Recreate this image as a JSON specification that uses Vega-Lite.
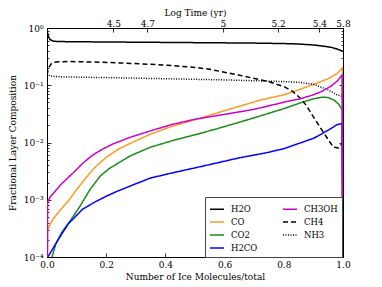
{
  "$schema": "https://vega.github.io/schema/vega-lite/v6.json",
  "width": 296,
  "height": 229,
  "autosize": {"type": "none"},
  "padding": {"left": 47, "top": 28, "right": 39, "bottom": 30},
  "background": "white",
  "config": {
    "font": "DejaVu Serif",
    "view": {"stroke": "black", "strokeWidth": 1},
    "axis": {
      "grid": false,
      "domainColor": "black",
      "domainWidth": 1,
      "tickColor": "black",
      "tickWidth": 0.8,
      "labelFont": "DejaVu Serif",
      "labelFontSize": 9,
      "labelColor": "black",
      "titleFont": "DejaVu Serif",
      "titleFontSize": 9,
      "titleFontWeight": "normal",
      "titleColor": "black",
      "labelOverlap": false,
      "labelFlush": false
    },
    "legend": {
      "labelFont": "DejaVu Serif",
      "columnPadding": 22,
      "rowPadding": -1,
      "padding": 4
    }
  },
  "datasets": {
    "curves": [
      {"s": "H2O", "x": 0, "y": 0.92},
      {"s": "H2O", "x": 0.004, "y": 0.72},
      {"s": "H2O", "x": 0.01, "y": 0.63},
      {"s": "H2O", "x": 0.02, "y": 0.59},
      {"s": "H2O", "x": 0.04, "y": 0.58},
      {"s": "H2O", "x": 0.1, "y": 0.575},
      {"s": "H2O", "x": 0.2, "y": 0.57},
      {"s": "H2O", "x": 0.3, "y": 0.565},
      {"s": "H2O", "x": 0.4, "y": 0.56},
      {"s": "H2O", "x": 0.5, "y": 0.555},
      {"s": "H2O", "x": 0.6, "y": 0.55},
      {"s": "H2O", "x": 0.7, "y": 0.545},
      {"s": "H2O", "x": 0.8, "y": 0.535},
      {"s": "H2O", "x": 0.85, "y": 0.525},
      {"s": "H2O", "x": 0.9, "y": 0.505},
      {"s": "H2O", "x": 0.93, "y": 0.485},
      {"s": "H2O", "x": 0.96, "y": 0.46},
      {"s": "H2O", "x": 0.98, "y": 0.43},
      {"s": "H2O", "x": 0.995, "y": 0.4},
      {"s": "H2O", "x": 1, "y": 0.39},

      {"s": "CO", "x": 0, "y": 0.000001},
      {"s": "CO", "x": 0.002, "y": 0.0003},
      {"s": "CO", "x": 0.02, "y": 0.00046},
      {"s": "CO", "x": 0.045, "y": 0.00066},
      {"s": "CO", "x": 0.072, "y": 0.00095},
      {"s": "CO", "x": 0.1, "y": 0.0015},
      {"s": "CO", "x": 0.128, "y": 0.0023},
      {"s": "CO", "x": 0.16, "y": 0.0036},
      {"s": "CO", "x": 0.2, "y": 0.0055},
      {"s": "CO", "x": 0.24, "y": 0.0076},
      {"s": "CO", "x": 0.28, "y": 0.0096},
      {"s": "CO", "x": 0.35, "y": 0.014},
      {"s": "CO", "x": 0.42, "y": 0.019},
      {"s": "CO", "x": 0.5, "y": 0.025},
      {"s": "CO", "x": 0.6, "y": 0.036},
      {"s": "CO", "x": 0.72, "y": 0.055},
      {"s": "CO", "x": 0.8, "y": 0.068},
      {"s": "CO", "x": 0.855, "y": 0.085},
      {"s": "CO", "x": 0.91, "y": 0.108},
      {"s": "CO", "x": 0.95, "y": 0.13},
      {"s": "CO", "x": 0.98, "y": 0.16},
      {"s": "CO", "x": 0.998, "y": 0.2},
      {"s": "CO", "x": 1, "y": 0.000001},

      {"s": "CO2", "x": 0, "y": 0.000001},
      {"s": "CO2", "x": 0.017, "y": 0.0001},
      {"s": "CO2", "x": 0.03, "y": 0.00017},
      {"s": "CO2", "x": 0.05, "y": 0.00027},
      {"s": "CO2", "x": 0.08, "y": 0.00044},
      {"s": "CO2", "x": 0.11, "y": 0.00075},
      {"s": "CO2", "x": 0.145, "y": 0.0015},
      {"s": "CO2", "x": 0.18, "y": 0.0026},
      {"s": "CO2", "x": 0.21, "y": 0.0035},
      {"s": "CO2", "x": 0.28, "y": 0.0058},
      {"s": "CO2", "x": 0.35, "y": 0.0083},
      {"s": "CO2", "x": 0.43, "y": 0.011},
      {"s": "CO2", "x": 0.52, "y": 0.0145},
      {"s": "CO2", "x": 0.6, "y": 0.019},
      {"s": "CO2", "x": 0.7, "y": 0.027},
      {"s": "CO2", "x": 0.8, "y": 0.039},
      {"s": "CO2", "x": 0.855, "y": 0.049},
      {"s": "CO2", "x": 0.9, "y": 0.058},
      {"s": "CO2", "x": 0.93, "y": 0.062},
      {"s": "CO2", "x": 0.95, "y": 0.061},
      {"s": "CO2", "x": 0.97, "y": 0.055},
      {"s": "CO2", "x": 0.985, "y": 0.047},
      {"s": "CO2", "x": 0.998, "y": 0.037},
      {"s": "CO2", "x": 1, "y": 0.000001},

      {"s": "H2CO", "x": 0, "y": 0.000001},
      {"s": "H2CO", "x": 0.003, "y": 0.0001},
      {"s": "H2CO", "x": 0.012, "y": 0.00012},
      {"s": "H2CO", "x": 0.04, "y": 0.00021},
      {"s": "H2CO", "x": 0.072, "y": 0.00038},
      {"s": "H2CO", "x": 0.12, "y": 0.00068},
      {"s": "H2CO", "x": 0.156, "y": 0.00088},
      {"s": "H2CO", "x": 0.2, "y": 0.00115},
      {"s": "H2CO", "x": 0.236, "y": 0.0014},
      {"s": "H2CO", "x": 0.3, "y": 0.0019},
      {"s": "H2CO", "x": 0.35, "y": 0.0024},
      {"s": "H2CO", "x": 0.43, "y": 0.003},
      {"s": "H2CO", "x": 0.52, "y": 0.0038},
      {"s": "H2CO", "x": 0.65, "y": 0.0054},
      {"s": "H2CO", "x": 0.74, "y": 0.0066},
      {"s": "H2CO", "x": 0.8, "y": 0.0078},
      {"s": "H2CO", "x": 0.855, "y": 0.0098},
      {"s": "H2CO", "x": 0.9, "y": 0.0118},
      {"s": "H2CO", "x": 0.93, "y": 0.0143},
      {"s": "H2CO", "x": 0.955, "y": 0.017},
      {"s": "H2CO", "x": 0.98, "y": 0.0205},
      {"s": "H2CO", "x": 0.997, "y": 0.0215},
      {"s": "H2CO", "x": 1, "y": 0.000001},

      {"s": "CH4", "x": 0, "y": 0.15},
      {"s": "CH4", "x": 0.005, "y": 0.2},
      {"s": "CH4", "x": 0.015, "y": 0.24},
      {"s": "CH4", "x": 0.03, "y": 0.255},
      {"s": "CH4", "x": 0.07, "y": 0.26},
      {"s": "CH4", "x": 0.15, "y": 0.255},
      {"s": "CH4", "x": 0.25, "y": 0.245},
      {"s": "CH4", "x": 0.4, "y": 0.225},
      {"s": "CH4", "x": 0.5, "y": 0.205},
      {"s": "CH4", "x": 0.55, "y": 0.19},
      {"s": "CH4", "x": 0.65, "y": 0.15},
      {"s": "CH4", "x": 0.75, "y": 0.115},
      {"s": "CH4", "x": 0.8, "y": 0.095},
      {"s": "CH4", "x": 0.83, "y": 0.078},
      {"s": "CH4", "x": 0.855, "y": 0.06},
      {"s": "CH4", "x": 0.875, "y": 0.045},
      {"s": "CH4", "x": 0.9, "y": 0.028},
      {"s": "CH4", "x": 0.935, "y": 0.0147},
      {"s": "CH4", "x": 0.967, "y": 0.0083},
      {"s": "CH4", "x": 0.985, "y": 0.008},
      {"s": "CH4", "x": 0.998, "y": 0.0098},

      {"s": "NH3", "x": 0, "y": 0.16},
      {"s": "NH3", "x": 0.01, "y": 0.145},
      {"s": "NH3", "x": 0.05, "y": 0.14},
      {"s": "NH3", "x": 0.2, "y": 0.136},
      {"s": "NH3", "x": 0.4, "y": 0.13},
      {"s": "NH3", "x": 0.5, "y": 0.127},
      {"s": "NH3", "x": 0.6, "y": 0.124},
      {"s": "NH3", "x": 0.7, "y": 0.12},
      {"s": "NH3", "x": 0.8, "y": 0.116},
      {"s": "NH3", "x": 0.855, "y": 0.112},
      {"s": "NH3", "x": 0.9, "y": 0.104},
      {"s": "NH3", "x": 0.92, "y": 0.095},
      {"s": "NH3", "x": 0.95, "y": 0.083},
      {"s": "NH3", "x": 0.98, "y": 0.068},
      {"s": "NH3", "x": 1, "y": 0.063},

      {"s": "CH3OH", "x": 0, "y": 0.000001},
      {"s": "CH3OH", "x": 0.002, "y": 0.0009},
      {"s": "CH3OH", "x": 0.01, "y": 0.0011},
      {"s": "CH3OH", "x": 0.027, "y": 0.0014},
      {"s": "CH3OH", "x": 0.045, "y": 0.0018},
      {"s": "CH3OH", "x": 0.066, "y": 0.0023},
      {"s": "CH3OH", "x": 0.09, "y": 0.003},
      {"s": "CH3OH", "x": 0.12, "y": 0.0043},
      {"s": "CH3OH", "x": 0.15, "y": 0.0058},
      {"s": "CH3OH", "x": 0.18, "y": 0.0073},
      {"s": "CH3OH", "x": 0.22, "y": 0.0093},
      {"s": "CH3OH", "x": 0.28, "y": 0.0123},
      {"s": "CH3OH", "x": 0.35, "y": 0.016},
      {"s": "CH3OH", "x": 0.42, "y": 0.0205},
      {"s": "CH3OH", "x": 0.5, "y": 0.0255},
      {"s": "CH3OH", "x": 0.6, "y": 0.031},
      {"s": "CH3OH", "x": 0.7, "y": 0.038},
      {"s": "CH3OH", "x": 0.81, "y": 0.052},
      {"s": "CH3OH", "x": 0.855, "y": 0.058},
      {"s": "CH3OH", "x": 0.9, "y": 0.068},
      {"s": "CH3OH", "x": 0.93, "y": 0.079},
      {"s": "CH3OH", "x": 0.96, "y": 0.097},
      {"s": "CH3OH", "x": 0.98, "y": 0.118},
      {"s": "CH3OH", "x": 0.997, "y": 0.15},
      {"s": "CH3OH", "x": 1, "y": 0.000001}
    ]
  },
  "layer": [
    {
      "data": {"name": "curves"},
      "mark": {"type": "line", "clip": true, "strokeWidth": 1.5},
      "encoding": {
        "x": {
          "field": "x", "type": "quantitative",
          "scale": {"domain": [0, 1], "nice": false, "zero": false},
          "axis": {
            "orient": "bottom",
            "title": "Number of Ice Molecules/total",
            "values": [0, 0.2, 0.4, 0.6, 0.8, 1.0],
            "format": ".1f",
            "tickSize": -4,
            "labelPadding": 7,
            "titlePadding": 3
          }
        },
        "y": {
          "field": "y", "type": "quantitative",
          "scale": {"type": "log", "domain": [0.0001, 1], "nice": false},
          "axis": {
            "orient": "left",
            "title": "Fractional Layer Composition",
            "values": [0.0001, 0.0002, 0.0003, 0.0004, 0.0005, 0.0006, 0.0007, 0.0008, 0.0009,
                       0.001, 0.002, 0.003, 0.004, 0.005, 0.006, 0.007, 0.008, 0.009,
                       0.01, 0.02, 0.03, 0.04, 0.05, 0.06, 0.07, 0.08, 0.09,
                       0.1, 0.2, 0.3, 0.4, 0.5, 0.6, 0.7, 0.8, 0.9, 1],
            "labelExpr": "datum.value == 1 ? '10⁰' : datum.value == 0.1 ? '10⁻¹' : datum.value == 0.01 ? '10⁻²' : datum.value == 0.001 ? '10⁻³' : datum.value == 0.0001 ? '10⁻⁴' : ''",
            "tickSize": {"condition": {"test": "datum.value == 1 || datum.value == 0.1 || datum.value == 0.01 || datum.value == 0.001 || datum.value == 0.0001", "value": -4}, "value": -2},
            "labelPadding": 8,
            "titlePadding": 6
          }
        },
        "color": {
          "field": "s", "type": "nominal",
          "scale": {
            "domain": ["H2O", "CO", "CO2", "H2CO", "CH3OH", "CH4", "NH3"],
            "range": ["#000000", "#ff9922", "#1a8c1a", "#0000ff", "#cc00cc", "#000000", "#000000"]
          },
          "legend": {
            "orient": "none",
            "legendX": 158,
            "legendY": 169,
            "columns": 2,
            "title": null,
            "symbolType": "stroke",
            "symbolSize": 196,
            "symbolStrokeWidth": 1.5,
            "labelFontSize": 8.5,
            "labelColor": "black",
            "labelOffset": 6,
            "columnPadding": 22,
            "strokeColor": "#444444",
            "fillColor": "white"
          }
        },
        "strokeDash": {
          "field": "s", "type": "nominal",
          "scale": {
            "domain": ["H2O", "CO", "CO2", "H2CO", "CH3OH", "CH4", "NH3"],
            "range": [[1, 0], [1, 0], [1, 0], [1, 0], [1, 0], [5, 3], [1, 1.5]]
          },
          "legend": {
            "orient": "none",
            "legendX": 158,
            "legendY": 169,
            "columns": 2,
            "title": null,
            "symbolType": "stroke",
            "symbolSize": 196,
            "symbolStrokeWidth": 1.5,
            "labelFontSize": 8.5,
            "labelColor": "black",
            "labelOffset": 6,
            "columnPadding": 22,
            "strokeColor": "#444444",
            "fillColor": "white"
          }
        }
      }
    },
    {
      "data": {"name": "curves"},
      "mark": {"type": "line", "opacity": 0},
      "encoding": {
        "detail": {"field": "s", "type": "nominal"},
        "x": {
          "field": "x", "type": "quantitative",
          "scale": {"domain": [0, 1], "nice": false, "zero": false},
          "axis": {
            "orient": "top",
            "title": "Log Time (yr)",
            "values": [0.224, 0.339, 0.594, 0.781, 0.92, 1],
            "labelExpr": "datum.value == 0.224 ? '4.5' : datum.value == 0.339 ? '4.7' : datum.value == 0.594 ? '5' : datum.value == 0.781 ? '5.2' : datum.value == 0.92 ? '5.4' : '5.8'",
            "tickSize": -4,
            "labelPadding": 4,
            "titlePadding": 2
          }
        },
        "y": {
          "field": "y", "type": "quantitative",
          "scale": {"type": "log", "domain": [0.0001, 1], "nice": false},
          "axis": {
            "orient": "right",
            "title": null,
            "labels": false,
            "values": [0.0001, 0.0002, 0.0003, 0.0004, 0.0005, 0.0006, 0.0007, 0.0008, 0.0009,
                       0.001, 0.002, 0.003, 0.004, 0.005, 0.006, 0.007, 0.008, 0.009,
                       0.01, 0.02, 0.03, 0.04, 0.05, 0.06, 0.07, 0.08, 0.09,
                       0.1, 0.2, 0.3, 0.4, 0.5, 0.6, 0.7, 0.8, 0.9, 1],
            "tickSize": {"condition": {"test": "datum.value == 1 || datum.value == 0.1 || datum.value == 0.01 || datum.value == 0.001 || datum.value == 0.0001", "value": -4}, "value": -2}
          }
        }
      }
    }
  ],
  "resolve": {"axis": {"x": "independent", "y": "independent"}}
}
